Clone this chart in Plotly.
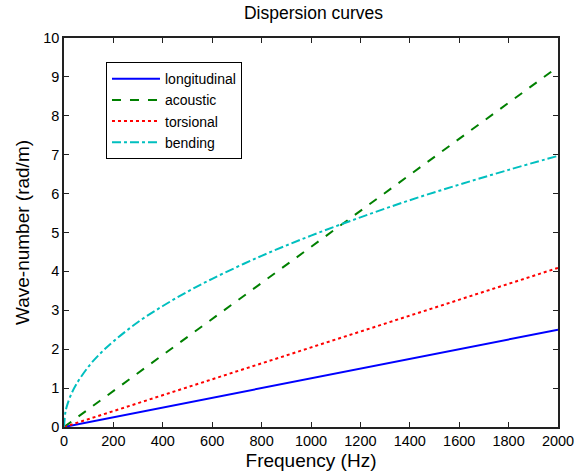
import plotly.graph_objects as go

# frequency samples (Hz)
freq_lin = [0, 2000]
longitudinal = [0, 2.5]
acoustic = [0, 9.26]
torsional = [0, 4.09]

# bending curve
freq_bend = [0, 5, 10, 25, 50, 100, 150, 200, 300, 400, 500, 600, 800,
             1000, 1200, 1400, 1600, 1800, 2000]
bending = [0, 0.35, 0.5, 0.78, 1.1, 1.56, 1.91, 2.2, 2.7, 3.11, 3.48,
           3.81, 4.4, 4.92, 5.39, 5.83, 6.23, 6.61, 6.97]

x_ticks = list(range(0, 2001, 200))
y_ticks = list(range(0, 11))

FONT = 'Liberation Sans, Arial, sans-serif'

fig = go.Figure()
fig.add_trace(go.Scatter(x=freq_lin, y=longitudinal, mode='lines', name='longitudinal',
                         line=dict(color='#0000ff', width=2)))
fig.add_trace(go.Scatter(x=freq_lin, y=acoustic, mode='lines', name='acoustic',
                         line=dict(color='#008000', width=2, dash='dash')))
fig.add_trace(go.Scatter(x=freq_lin, y=torsional, mode='lines', name='torsional',
                         line=dict(color='#ff0000', width=2, dash='dot')))
fig.add_trace(go.Scatter(x=freq_bend, y=bending, mode='lines', name='bending',
                         line=dict(color='#00bfbf', width=2, dash='dashdot', shape='spline')))

axis_common = dict(showgrid=False, zeroline=False, showline=True, linecolor='#222222',
                   linewidth=1.6, mirror='ticks', ticks='inside', ticklen=5, automargin=False,
                   tickcolor='#222222', tickfont=dict(size=14.5, color='black', family=FONT))

fig.update_xaxes(range=[0, 2000], tickvals=x_ticks, title=dict(text='Frequency (Hz)',
                 font=dict(size=19, color='black', family=FONT), standoff=5), **axis_common)
fig.update_yaxes(range=[0, 10], tickvals=y_ticks, title=dict(text='Wave-number (rad/m)',
                 font=dict(size=19, color='black', family=FONT), standoff=9), **axis_common)

fig.update_layout(
    width=586, height=474,
    margin=dict(l=64, r=28, t=38, b=47),
    paper_bgcolor='white', plot_bgcolor='white',
    title=dict(text='Dispersion curves', x=0.535, xanchor='center', y=0.972, yanchor='middle',
               font=dict(size=17.5, color='black', family=FONT)),
    font=dict(family=FONT, color='black'),
    legend=dict(x=0.085, y=0.938, xanchor='left', yanchor='top', bgcolor='white',
                bordercolor='black', borderwidth=1, font=dict(size=14, family=FONT),
                tracegroupgap=0, itemwidth=48),
    showlegend=True,
)

# drop the default page margin so the figure fills the window
fig.write_html("out.html", config={'displayModeBar': False},
               post_script="document.body.style.margin='0';")
